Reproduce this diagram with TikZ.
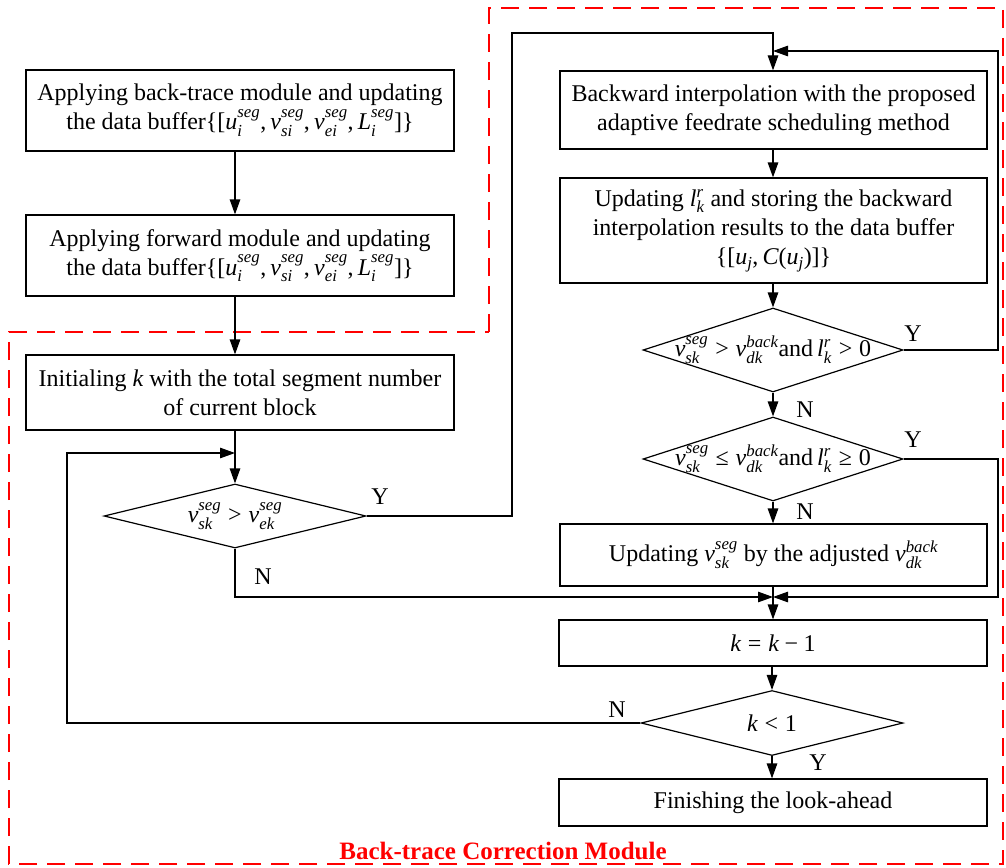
\documentclass[tikz,border=0pt]{standalone}
\usepackage{amsmath}
\usepackage{fontspec}
\setmainfont{Liberation Serif}
\usetikzlibrary{arrows.meta,shapes.geometric}
\newcommand{\V}[3]{\mathit{#1}^{\mathit{#2}}_{\mathit{#3}}}
\newcommand{\mi}[1]{\mathit{#1}}
\newcommand{\tr}[1]{\mathrel{\text{#1}}}
\newcommand{\tx}[1]{\text{#1}}
\newcommand{\cm}{\mathpunct{\text{,}}}
\begin{document}
\begin{tikzpicture}[x=1pt,y=-1pt,
  txt/.style={font=\fontsize{24}{29}\selectfont},
  box/.style={draw, line width=1.2pt, align=center, inner sep=2pt, txt},
  dia/.style={draw, diamond, line width=1.2pt, inner sep=0pt},
  arr/.style={line width=1.2pt, -{Triangle[length=15pt,width=10.5pt]}},
  lab/.style={txt, inner sep=0pt},
  border/.style={red, line width=2.2pt, dash pattern=on 18pt off 10pt}]
\useasboundingbox (0,0) rectangle (1006,867);
% red dashed module border
\draw[border] (489,332) -- (489,8) -- (1003,8) -- (1003,864) -- (9,864) -- (9,332) -- cycle;
\node[text=red, font=\fontsize{25}{29}\selectfont\bfseries, anchor=base, inner sep=0pt] (title) at (503,859) {Back-trace Correction Module};
% left column
\node[box, minimum width=428pt, minimum height=81pt] (b1) at (240,110.5)
  {Applying back-trace module and updating\\ the data buffer$\tx{\{[}\V{u}{seg}{i}\cm\V{v}{seg}{si}\cm\V{v}{seg}{ei}\cm\V{L}{seg}{i}\tx{]\}}$};
\node[box, minimum width=428pt, minimum height=81pt] (b2) at (240,255.5)
  {Applying forward module and updating\\ the data buffer$\tx{\{[}\V{u}{seg}{i}\cm\V{v}{seg}{si}\cm\V{v}{seg}{ei}\cm\V{L}{seg}{i}\tx{]\}}$};
\node[box, minimum width=428pt, minimum height=75pt] (b3) at (240,392.5)
  {Initialing $\mi{k}$ with the total segment number\\ of current block};
\node[dia, minimum width=262pt, minimum height=64pt] (d1) at (235,516) {};
\node[lab] at (d1.center) {$\V{v}{seg}{sk} \tr{>} \V{v}{seg}{ek}$};
% right column
\node[box, minimum width=427pt, minimum height=78pt] (b4) at (773.5,110)
  {Backward interpolation with the proposed\\ adaptive feedrate scheduling method};
\node[box, minimum width=427pt, minimum height=105pt] (b5) at (773.5,230.5)
  {Updating $\V{l}{r}{k}$ and storing the backward\\ interpolation results to the data buffer\\ $\tx{\{[}\mi{u}_{\mi{j}}\cm\mi{C}\tx{(}\mi{u}_{\mi{j}}\tx{)]\}}$};
\node[dia, minimum width=260pt, minimum height=84pt] (d2) at (773,350) {};
\node[lab] at (d2.center) {$\V{v}{seg}{sk} \tr{>} \V{v}{back}{dk}$and\,$\V{l}{r}{k} \tr{>} \tx{0}$};
\node[dia, minimum width=260pt, minimum height=84pt] (d3) at (773,459) {};
\node[lab] at (d3.center) {$\V{v}{seg}{sk} \tr{≤} \V{v}{back}{dk}$and\,$\V{l}{r}{k} \tr{≥} \tx{0}$};
\node[box, minimum width=427pt, minimum height=62pt] (b6) at (773.5,555)
  {Updating $\V{v}{seg}{sk}$ by the adjusted $\V{v}{back}{dk}$};
\node[box, minimum width=428pt, minimum height=46pt] (b7) at (773,643) {$\mi{k}\tr{=}\mi{k}\mathbin{\text{−}}\tx{1}$};
\node[dia, minimum width=262pt, minimum height=65pt] (d4) at (772,723) {};
\node[lab] at (d4.center) {$\mi{k}\tr{<}\tx{1}$};
\node[box, minimum width=428pt, minimum height=47pt] (b8) at (773,802.5) {Finishing the look-ahead};
% helper coordinates
\coordinate (j1) at (235,453);
\coordinate (lx) at (67,723);
\coordinate (yx) at (512,516);
\coordinate (top1) at (773,33);
\coordinate (j2) at (773,51);
\coordinate (rx) at (998,350);
\coordinate (j3) at (773,597);
% connectors
\draw[arr] (b1.south -| d1.north) -- (b2.north -| d1.north);
\draw[arr] (b2.south -| d1.north) -- (b3.north -| d1.north);
\draw[arr] (b3.south -| d1.north) -- (d1.north);
\draw[arr] (d4.west) -- (lx) |- (j1);
\draw[arr] (d1.east) -- (yx) |- (top1) -- (b4.north -| top1);
\draw[arr] (b4.south -| d2.north) -- (b5.north -| d2.north);
\draw[arr] (b5.south -| d2.north) -- (d2.north);
\draw[arr] (d2.south) -- (d3.north);
\draw[arr] (d3.south) -- (b6.north -| d3.south);
\draw[arr] (d2.east) -- (rx) |- (j2);
\draw[arr] (d3.east) -- (d3.east -| rx) |- (j3);
\draw[arr] (d1.south) |- (j3);
\draw[arr] (b6.south -| j3) -- (b7.north -| j3);
\draw[arr] (b7.south -| d4.north) -- (d4.north);
\draw[arr] (d4.south) -- (b8.north -| d4.south);
% branch labels
\node[lab] (y1) at (380,497) {Y};
\node[lab] (n1) at (263,577) {N};
\node[lab] (y2) at (913,334) {Y};
\node[lab] (n2) at (805,410) {N};
\node[lab] (y3) at (913,440) {Y};
\node[lab] (n3) at (805,512) {N};
\node[lab] (n4) at (617,710) {N};
\node[lab] (y4) at (818,763) {Y};
\end{tikzpicture}
\end{document}
